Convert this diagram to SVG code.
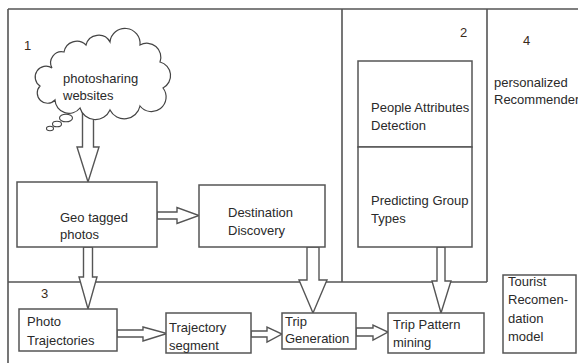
<svg xmlns="http://www.w3.org/2000/svg" width="578" height="363" viewBox="0 0 578 363">
<style>
.frame{stroke:#555;stroke-width:1.6;fill:none}
.box{fill:#fff;stroke:#555;stroke-width:1.5}
.arrow{fill:#fff;stroke:#555;stroke-width:1.4;stroke-linejoin:miter}
text{font-family:"Liberation Sans",Arial,sans-serif;font-size:13px;fill:#2a2a2a}
.num{font-size:13px;fill:#3a2a1a}
</style>
<rect width="578" height="363" fill="#fff"/>
<g id="frame">
<path class="frame" d="M8,9 H578 M8,9 V363 M8,282 H487 M342,9 V282 M487,9 V282"/>
<text class="num" x="24" y="50">1</text>
<text class="num" x="460" y="37">2</text>
<text class="num" x="41" y="298">3</text>
<text class="num" x="523" y="45">4</text>
<text x="494" y="87">personalized</text>
<text x="494" y="104">Recommender</text>
</g>
<g id="connectors">
<polygon class="arrow" points="82.5,113 93.5,113 93.5,147 99,147 88,182 77,147 82.5,147"/>
<polygon class="arrow" points="83.5,247 92.5,247 92.5,277 97,277 88,309 79,277 83.5,277"/>
<polygon class="arrow" points="157,212 177,212 177,207.5 199,215.5 177,223.5 177,219 157,219"/>
<polygon class="arrow" points="117,330 143,330 143,327 167,333.5 143,341 143,337 117,337"/>
<polygon class="arrow" points="251,331 267,331 267,327 282,334 267,342 267,337 251,337"/>
<polygon class="arrow" points="356,328 373,328 373,325 388,332 373,340 373,336 356,336"/>
<polygon class="arrow" points="307,247 319,247 319,280 327,280 313,313 299,280 307,280"/>
<polygon class="arrow" points="437,247 445,247 445,281 451,281 441,313 432,281 437,281"/>
</g>
<g id="cloud">
<path fill="#fff" stroke="#444" stroke-width="1.2" d="M52,68 A11,11 0 0 1 64,52 A13,13 0 0 1 86,45 A13,13 0 0 1 110,42 A15,15 0 0 1 140,45 A14,14 0 0 1 160,62 A14,14 0 0 1 163,88 A14,14 0 0 1 140,106 A16,16 0 0 1 110,110 A16,16 0 0 1 80,108 A14,14 0 0 1 55,100 A10,10 0 0 1 40,86 A10,10 0 0 1 52,68 Z"/>
<ellipse cx="66" cy="118" rx="6.5" ry="3.8" fill="#fff" stroke="#444" stroke-width="1.1"/>
<ellipse cx="57" cy="124" rx="4.5" ry="2.8" fill="#fff" stroke="#444" stroke-width="1.1"/>
<ellipse cx="50" cy="128.5" rx="3.5" ry="2.2" fill="#fff" stroke="#444" stroke-width="1.1"/>
<text x="63" y="83">photosharing</text>
<text x="63" y="100">websites</text>
</g>
<g id="geo">
<rect class="box" x="17" y="182" width="140" height="65"/>
<text x="60" y="222">Geo tagged</text>
<text x="60" y="239">photos</text>
</g>
<g id="destination">
<rect class="box" x="199" y="185" width="126" height="62"/>
<text x="228" y="217">Destination</text>
<text x="228" y="235">Discovery</text>
</g>
<g id="people">
<rect class="box" x="358" y="61" width="114" height="86"/>
<text x="371" y="112">People Attributes</text>
<text x="371" y="130">Detection</text>
</g>
<g id="predicting">
<rect class="box" x="358" y="147" width="114" height="100"/>
<text x="371" y="205">Predicting Group</text>
<text x="371" y="223">Types</text>
</g>
<g id="phototraj">
<rect class="box" x="19" y="309" width="98" height="42"/>
<text x="27" y="326">Photo</text>
<text x="27" y="345">Trajectories</text>
</g>
<g id="trajseg">
<rect class="box" x="166" y="313" width="85" height="40"/>
<text x="169" y="332">Trajectory</text>
<text x="169" y="350">segment</text>
</g>
<g id="tripgen">
<rect class="box" x="282" y="313" width="74" height="36"/>
<text x="285" y="326">Trip</text>
<text x="285" y="343">Generation</text>
</g>
<g id="trippattern">
<rect class="box" x="388" y="313" width="96" height="40"/>
<text x="393" y="329">Trip Pattern</text>
<text x="393" y="347">mining</text>
</g>
<g id="tourist">
<rect class="box" x="503" y="275" width="73" height="78"/>
<text x="508" y="286">Tourist</text>
<text x="508" y="304">Recomen-</text>
<text x="508" y="323">dation</text>
<text x="508" y="341">model</text>
</g>
</svg>
